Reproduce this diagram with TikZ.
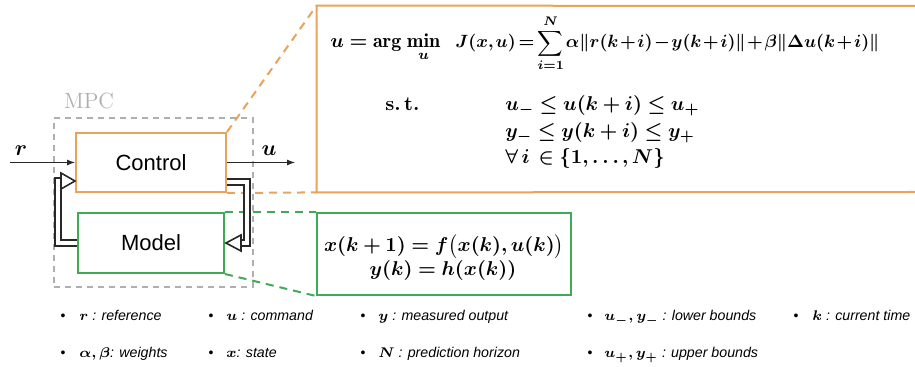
\documentclass[tikz,border=0pt]{standalone}
\usepackage{amsmath,bm,graphicx}
\usepackage{fontspec}
\newfontfamily\arialf{Liberation Sans}
\usetikzlibrary{arrows.meta,fit,calc}
\definecolor{orng}{RGB}{232,164,90}
\definecolor{grn}{RGB}{64,170,88}
\definecolor{mgray}{RGB}{175,175,175}
\definecolor{dk}{RGB}{40,40,40}
\newcommand{\mpcEqA}{$\displaystyle \bm{u} \mathrel{\bm{=}} \mathbf{arg}\;\underset{\bm{u}}{\mathbf{min}}$}
\newcommand{\mpcEqB}{\resizebox{212pt}{!}{\medmuskip=1.5mu\thickmuskip=3mu\thinmuskip=2mu$\displaystyle \bm{J(x,u)} \mathrel{\bm{=}} \sum_{\bm{i=1}}^{\bm{N}} \bm{\alpha\lVert r(k+i) - y(k+i)\rVert + \beta\lVert \Delta u(k+i)\rVert}$}}
\newcommand{\mpcEqC}{\textbf{s.\,t.}}
\newcommand{\mpcEqD}{$\bm{u_{-} \le u(k+i) \le u_{+}}$}
\newcommand{\mpcEqE}{$\bm{y_{-} \le y(k+i) \le y_{+}}$}
\newcommand{\mpcEqF}{$\bm{\forall\, i\, \in \{1,\ldots,N\}}$}
\newcommand{\mpcEqG}{$\bm{x(k+1) = f\bigl(x(k),u(k)\bigr)}$}
\newcommand{\mpcEqH}{$\bm{y(k) = h(x(k))}$}
\begin{document}
\begin{tikzpicture}[x=0.5pt,y=-0.5pt,
  obox/.style={draw=orng,line width=1pt,inner sep=0pt},
  gbox/.style={draw=grn,line width=1pt,inner sep=0pt},
  odash/.style={draw=orng,line width=1pt,dash pattern=on 4pt off 3pt},
  gdash/.style={draw=grn,line width=1pt,dash pattern=on 4pt off 3pt},
  mpcbox/.style={draw=mgray,line width=0.6pt,dash pattern=on 3pt off 2.5pt,inner sep=0pt},
  blocktxt/.style={font=\arialf\fontsize{11}{13}\selectfont},
  sig/.style={draw=dk,line width=0.5pt,-{Latex[length=4pt,width=3pt]}},
  fbline/.style={draw=dk,line width=0.8pt,double=white,double distance=2pt},
  fbhead/.style={draw=dk,line width=0.8pt,fill=white,line join=miter},
  eqtxt/.style={font=\fontsize{10}{12}\selectfont,inner sep=0pt},
  leg/.style={font=\arialf\itshape\fontsize{7.1}{9}\selectfont,anchor=base west,inner sep=0pt},
  bul/.style={font=\arialf\fontsize{7}{9}\selectfont,anchor=base,inner sep=0pt}]
\path[use as bounding box] (0,0) rectangle (915,367);
\fill[white] (0,0) rectangle (915,367);

% MPC box
\node[mpcbox,fit={(54,118) (253,287)}] (mpc) {};
\node[text=mgray,font=\fontsize{11}{13}\selectfont,anchor=base] (mpclbl) at (89,109) {MPC};

% blocks
\node[obox,fit={(76,133) (226,192)}] (ctrl) {};
\node[blocktxt] at (ctrl.center) {Control};
\node[gbox,fit={(78,213) (224,273)}] (model) {};
\node[blocktxt] at (model.center) {Model};

% zoom boxes
\coordinate (optR1) at (915,6);
\coordinate (optR2) at (915,192);
\node[inner sep=0pt,fit={(317,6) (915,192)}] (opt) {};
\draw[draw=orng,line width=1pt] (optR1) -- (opt.north west) -- (opt.south west) -- (optR2);
\node[gbox,fit={(317,213) (571,295)}] (dyn) {};

% zoom connectors
\draw[odash] (ctrl.north east) -- (opt.north west);
\draw[odash] (ctrl.south east) -- (opt.south west);
\draw[gdash] (model.north east) -- (dyn.north west);
\draw[gdash] (model.south east) -- (dyn.south west);

% signals
\coordinate (rin) at (10,162.5);
\coordinate (uout) at (295,162.5);
\draw[sig] (rin) -- (ctrl.west);
\draw[sig] (ctrl.east) -- (uout);
\node[font=\fontsize{11}{13}\selectfont,anchor=base] (rlbl) at (21,156) {$\bm{r}$};
\node[font=\fontsize{11}{13}\selectfont,anchor=base] (ulbl) at (269,156) {$\bm{u}$};

% feedback arrows
\coordinate (tipR) at ($(model.east)+(1,0)$);
\coordinate (tipL) at ($(ctrl.south west)+(0,-12)$);
\coordinate (fbRa) at ($(ctrl.south east)+(0,-11)$);
\coordinate (fbRb) at ($(tipR)+(21,0)$);
\coordinate (fbRc) at ($(tipR)+(14,0)$);
\coordinate (fbLb) at ($(tipL)+(-17,0)$);
\coordinate (fbLc) at ($(tipL)+(-13,0)$);
\draw[fbline] (fbRa) -| (fbRb) -- (fbRc);
\draw[fbhead] (tipR) -- ++(15,-8) -- ++(0,16) -- cycle;
\draw[fbline] (model.west) -| (fbLb) -- (fbLc);
\draw[fbhead] (tipL) -- ++(-14,-8) -- ++(0,16) -- cycle;

% optimisation problem
\path (330,48) node[eqtxt,anchor=base west] (eqa) {\mpcEqA};
\path (455,48) node[eqtxt,anchor=base west] (eqb) {\mpcEqB};
\path (385,111) node[eqtxt,anchor=base west] (eqc) {\mpcEqC};
\path (505,111) node[eqtxt,anchor=base west] (eqd) {\mpcEqD};
\path (505,138) node[eqtxt,anchor=base west] (eqe) {\mpcEqE};
\path (505,164) node[eqtxt,anchor=base west] (eqf) {\mpcEqF};

% model equations
\path (444,252) node[eqtxt,anchor=base] (eqg) {\mpcEqG};
\path (443,276) node[eqtxt,anchor=base] (eqh) {\mpcEqH};

% legend
\node[bul] (b1) at (63,321) {\textbullet};
\node[leg] (l1) at (79,321) {$\bm{r}$ : reference};
\node[bul] (b2) at (211,321) {\textbullet};
\node[leg] (l2) at (226,321) {$\bm{u}$ : command};
\node[bul] (b3) at (363,321) {\textbullet};
\node[leg] (l3) at (378,321) {$\bm{y}$ : measured output};
\node[bul] (b4) at (590,321) {\textbullet};
\node[leg] (l4) at (604,321) {$\bm{u_{-}, y_{-}}$ : lower bounds};
\node[bul] (b5) at (796,321) {\textbullet};
\node[leg] (l5) at (812,321) {$\bm{k}$ : current time};
\node[bul] (b6) at (63,358) {\textbullet};
\node[leg] (l6) at (79,358) {$\bm{\alpha, \beta}$: weights};
\node[bul] (b7) at (211,358) {\textbullet};
\node[leg] (l7) at (226,358) {$\bm{x}$: state};
\node[bul] (b8) at (363,358) {\textbullet};
\node[leg] (l8) at (378,358) {$\bm{N}$ : prediction horizon};
\node[bul] (b9) at (590,358) {\textbullet};
\node[leg] (l9) at (604,358) {$\bm{u_{+}, y_{+}}$ : upper bounds};
\end{tikzpicture}
\end{document}
